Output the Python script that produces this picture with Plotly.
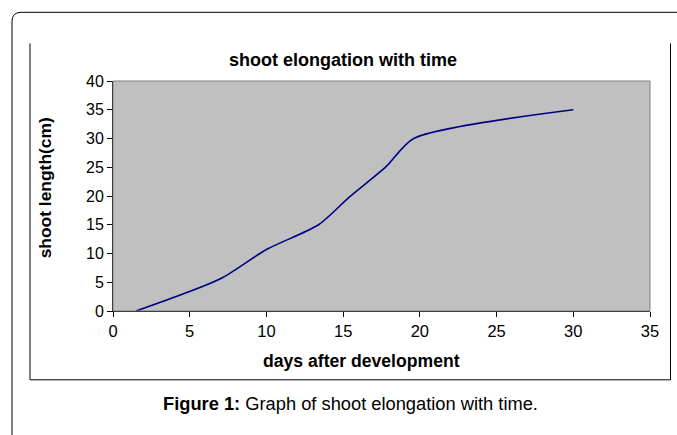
import plotly.graph_objects as go

days = [1.5, 7.0, 10.0, 13.4, 15.4, 17.8, 19.6, 30.0]
shoot_length = [0.0, 5.6, 10.7, 15.0, 19.8, 25.1, 30.0, 35.0]
x_ticks = [0, 5, 10, 15, 20, 25, 30, 35]
y_ticks = [0, 5, 10, 15, 20, 25, 30, 35, 40]

W, H = 677, 435
L, R, T, B = 113, 650, 80.7, 310.7
FONT = "Liberation Sans, Arial, sans-serif"

def px(x):
    return (x - L) / (R - L)

def py(y):
    return (B - y) / (B - T)

fig = go.Figure()
fig.add_trace(go.Scatter(
    x=days, y=shoot_length, mode="lines",
    line=dict(color="#000080", width=1.6, shape="spline", smoothing=0.7),
    showlegend=False, hoverinfo="skip",
))

shapes = []
shapes.append(dict(type="rect", xref="paper", yref="paper", x0=0, y0=0, x1=1, y1=1,
                   line=dict(color="#808080", width=1), layer="above"))
for (x0, y0, x1, y1) in [(30, 43, 30, 379.5), (30, 379.5, 670.5, 379.5), (670.5, 43, 670.5, 379.5)]:
    shapes.append(dict(type="line", xref="paper", yref="paper",
                       x0=px(x0), y0=py(y0), x1=px(x1), y1=py(y1),
                       line=dict(color="#000000", width=1)))
r = 9
path = (f"M {px(12)},{py(440)} L {px(12)},{py(12 + r)} "
        f"Q {px(12)},{py(12)} {px(12 + r)},{py(12)} L {px(690)},{py(12)}")
shapes.append(dict(type="path", xref="paper", yref="paper", path=path,
                   line=dict(color="#000000", width=1)))

annotations = [
    dict(text="<b>shoot elongation with time</b>", x=px(343), y=py(60), xref="paper", yref="paper",
         showarrow=False, font=dict(family=FONT, size=18, color="black"), xanchor="center", yanchor="middle"),
    dict(text="<b>days after development</b>", x=px(361), y=py(361), xref="paper", yref="paper",
         showarrow=False, font=dict(family=FONT, size=17.6, color="black"), xanchor="center", yanchor="middle"),
    dict(text="<b>shoot length(cm)</b>", x=px(45), y=py(188), xref="paper", yref="paper", textangle=-90,
         showarrow=False, font=dict(family=FONT, size=17.4, color="black"), xanchor="center", yanchor="middle"),
    dict(text="<b>Figure 1:</b> Graph of shoot elongation with time.", x=px(350), y=py(403), xref="paper", yref="paper",
         showarrow=False, font=dict(family=FONT, size=18.3, color="black"), xanchor="center", yanchor="middle"),
]

fig.update_layout(
    width=W, height=H,
    margin=dict(l=L, r=W - R, t=T, b=H - B, pad=0),
    paper_bgcolor="white", plot_bgcolor="#C0C0C0",
    font=dict(family=FONT, size=16, color="black"),
    shapes=shapes, annotations=annotations,
    xaxis=dict(range=[0, 35], tickvals=x_ticks, ticks="outside", ticklen=5, tickcolor="black",
               showline=True, linecolor="black", linewidth=1, showgrid=False, zeroline=False,
               tickfont=dict(family=FONT, size=16.5, color="black"), ticklabelstandoff=0, fixedrange=True),
    yaxis=dict(range=[0, 40], tickvals=y_ticks, ticks="outside", ticklen=5, tickcolor="black",
               showline=True, linecolor="black", linewidth=1, showgrid=False, zeroline=False,
               tickfont=dict(family=FONT, size=16, color="black"), fixedrange=True),
)

fig.write_html("out.html", config={"displayModeBar": False},
               post_script="document.body.style.margin='0';")
